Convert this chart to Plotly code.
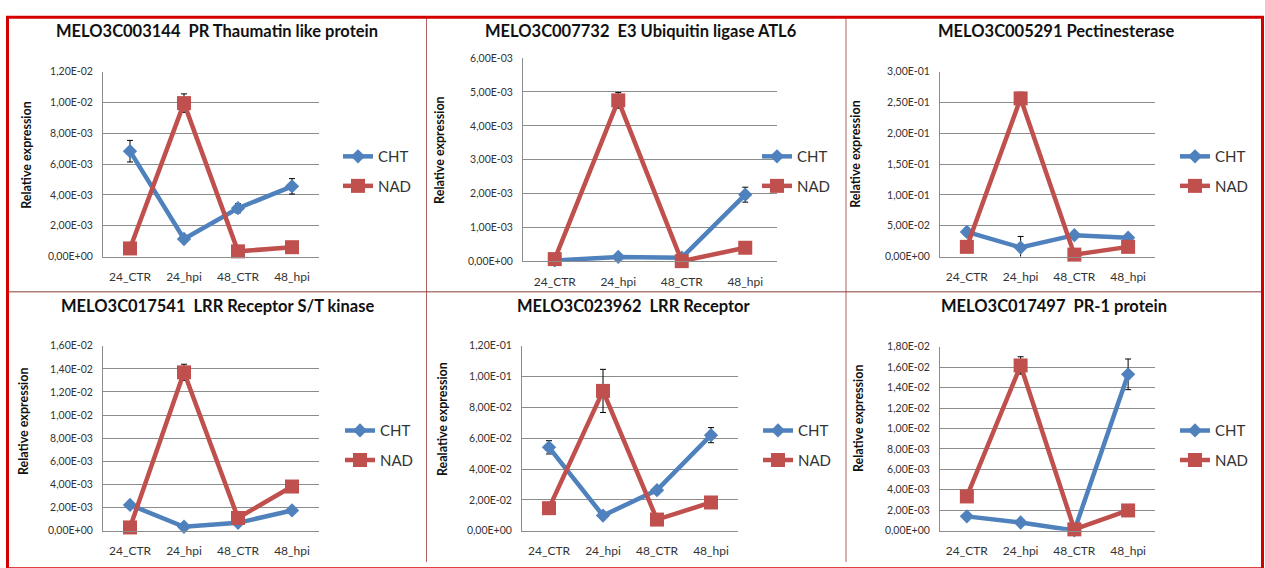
import plotly.graph_objects as go

# ---------------- data ----------------
categories = ["24_CTR", "24_hpi", "48_CTR", "48_hpi"]

titles = [
    "MELO3C003144  PR Thaumatin like protein",
    "MELO3C007732  E3 Ubiquitin ligase ATL6",
    "MELO3C005291 Pectinesterase",
    "MELO3C017541  LRR Receptor S/T kinase",
    "MELO3C023962  LRR Receptor",
    "MELO3C017497  PR-1 protein",
]
y_titles = ["Relative expression", "Relative expression", "Relative expression",
            "Relative expression", "Realative expression", "Relative expression"]

# y-axis maximum and tick step for each panel
y_max = [1.2e-2, 6e-3, 3e-1, 1.6e-2, 1.2e-1, 1.8e-2]
y_step = [2e-3, 1e-3, 5e-2, 2e-3, 2e-2, 2e-3]

# relative expression (mean) and error for CHT and NAD
cht_thaumatin = [6.84e-3, 1.14e-3, 3.14e-3, 4.56e-3]
cht_thaumatin_err = [0.7e-3, None, 0.3e-3, 0.5e-3]
nad_thaumatin = [0.53e-3, 9.96e-3, 0.34e-3, 0.61e-3]
nad_thaumatin_err = [None, 0.6e-3, None, None]

cht_ubiquitin = [0.03e-3, 0.135e-3, 0.11e-3, 1.97e-3]
cht_ubiquitin_err = [None, None, None, 0.22e-3]
nad_ubiquitin = [0.07e-3, 4.75e-3, 0.01e-3, 0.405e-3]
nad_ubiquitin_err = [None, 0.23e-3, None, None]

cht_pectinesterase = [4.0e-2, 1.47e-2, 3.48e-2, 3.06e-2]
cht_pectinesterase_err = [0.6e-2, 1.8e-2, None, None]
nad_pectinesterase = [1.58e-2, 2.566e-1, 0.32e-2, 1.58e-2]
nad_pectinesterase_err = [None, 1.0e-2, None, None]

cht_lrr_kinase = [2.23e-3, 0.34e-3, 0.68e-3, 1.75e-3]
cht_lrr_kinase_err = [None, None, None, None]
nad_lrr_kinase = [0.28e-3, 13.7e-3, 1.1e-3, 3.82e-3]
nad_lrr_kinase_err = [None, 0.7e-3, None, None]

cht_lrr_receptor = [5.41e-2, 0.98e-2, 2.63e-2, 6.2e-2]
cht_lrr_receptor_err = [0.43e-2, None, None, 0.49e-2]
nad_lrr_receptor = [1.46e-2, 9.07e-2, 0.72e-2, 1.83e-2]
nad_lrr_receptor_err = [None, 1.4e-2, None, None]

cht_pr1 = [1.40e-3, 0.8e-3, 0.02e-3, 15.3e-3]
cht_pr1_err = [None, None, None, 1.5e-3]
nad_pr1 = [3.35e-3, 16.17e-3, 0.13e-3, 1.98e-3]
nad_pr1_err = [None, 0.85e-3, None, None]

cht_series = [cht_thaumatin, cht_ubiquitin, cht_pectinesterase,
              cht_lrr_kinase, cht_lrr_receptor, cht_pr1]
cht_errors = [cht_thaumatin_err, cht_ubiquitin_err, cht_pectinesterase_err,
              cht_lrr_kinase_err, cht_lrr_receptor_err, cht_pr1_err]
nad_series = [nad_thaumatin, nad_ubiquitin, nad_pectinesterase,
              nad_lrr_kinase, nad_lrr_receptor, nad_pr1]
nad_errors = [nad_thaumatin_err, nad_ubiquitin_err, nad_pectinesterase_err,
              nad_lrr_kinase_err, nad_lrr_receptor_err, nad_pr1_err]

# ---------------- layout geometry (pixels) ----------------
W, H = 1265, 568
FONT = "Lato, 'Open Sans', sans-serif"
CHT_COLOR = "#4F81BD"
NAD_COLOR = "#C0504D"
GRID = "#8c8c8c"

# plot areas: left, right, top, bottom
areas = [
    (103, 319, 67, 256), (523, 777, 53, 261), (940, 1155, 67, 256),
    (103, 319, 347, 536), (522, 738, 347, 536), (940, 1155, 348, 536),
]
title_pos = [(217, 26), (641, 26), (1056, 26), (217, 306), (634, 306), (1054, 306)]
ytitle_pos = [(27, 152), (440, 147), (856, 151), (23, 424), (442, 422), (858, 421)]
legend_pos = [(338, 137), (757, 137), (1175, 137), (340, 417), (758, 417), (1175, 417)]


def px(x):
    return x / W


def py(y):
    return 1 - y / H


def sci_label(v):
    return f"{v:.2E}".replace(".", ",")


fig = go.Figure()
layout = dict(
    width=W, height=H, margin=dict(l=0, r=0, t=0, b=0),
    paper_bgcolor="white", plot_bgcolor="white",
    font=dict(family=FONT, color="#222"),
    annotations=[], shapes=[], showlegend=True,
)

for i in range(6):
    n = "" if i == 0 else str(i + 1)
    xa, ya = "x" + n, "y" + n
    leg = "legend" + n
    l, r, t, b = areas[i]

    nticks = int(round(y_max[i] / y_step[i]))
    tvals = [k * y_step[i] for k in range(nticks + 1)]

    for name, vals, errs, color, symbol, size in [
        ("CHT", cht_series[i], cht_errors[i], CHT_COLOR, "diamond", 11),
        ("NAD", nad_series[i], nad_errors[i], NAD_COLOR, "square", 14),
    ]:
        fig.add_trace(go.Scatter(
            x=categories, y=vals, name=name, mode="lines+markers",
            xaxis=xa, yaxis=ya, legend=leg, legendgroup=name + n,
            line=dict(color=color, width=4.5),
            marker=dict(symbol=symbol, size=size, color=color),
            error_y=dict(type="data", array=[e if e is not None else float("nan") for e in errs],
                         visible=True, color="black", thickness=1, width=3),
            cliponaxis=False,
        ))

    layout["xaxis" + n] = dict(
        domain=[px(l), px(r)], anchor=ya, type="category",
        range=[-0.5, 3.5], showgrid=False, zeroline=False,
        showline=True, linecolor=GRID, linewidth=1, ticks="",
        ticklabelstandoff=9,
        tickfont=dict(size=12, color="#333"), fixedrange=True,
    )
    layout["yaxis" + n] = dict(
        domain=[py(b), py(t)], anchor=xa, range=[0, y_max[i] * 1.0005],
        tickvals=tvals, ticktext=[sci_label(v) for v in tvals],
        showgrid=True, gridcolor=GRID, gridwidth=1, zeroline=False,
        showline=True, linecolor=GRID, linewidth=1, ticks="",
        ticklabelstandoff=7, tickfont=dict(size=10.5, color="#333"), fixedrange=True,
    )
    lx, ly = legend_pos[i]
    layout[leg] = dict(
        x=px(lx), y=py(ly), xanchor="left", yanchor="top",
        bgcolor="rgba(0,0,0,0)", font=dict(size=15, color="#333"),
        tracegroupgap=7, itemwidth=30,
    )
    tx, ty = title_pos[i]
    layout["annotations"].append(dict(
        text="<b>" + titles[i] + "</b>", x=px(tx), y=py(ty), xref="paper", yref="paper",
        showarrow=False, font=dict(size=16.5, color="#111"), xanchor="center", yanchor="middle",
    ))
    ax, ay = ytitle_pos[i]
    layout["annotations"].append(dict(
        text="<b>" + y_titles[i] + "</b>", x=px(ax), y=py(ay), xref="paper", yref="paper",
        showarrow=False, textangle=-90, font=dict(size=12.5, color="#111"),
        xanchor="center", yanchor="middle",
    ))

# panel dividers and frame
for x0 in (426.5, 846):
    layout["shapes"].append(dict(type="line", xref="paper", yref="paper",
                                 x0=px(x0), x1=px(x0), y0=0, y1=py(11),
                                 line=dict(color="#b06060", width=1)))
layout["shapes"].append(dict(type="line", xref="paper", yref="paper",
                             x0=px(7), x1=px(1263), y0=py(292), y1=py(292),
                             line=dict(color="#8b3a3a", width=1)))
layout["shapes"].append(dict(type="rect", xref="paper", yref="paper",
                             x0=px(7.5), x1=px(1262.5), y0=py(575), y1=py(11.5),
                             line=dict(color="#d40000", width=3)))

fig.update_layout(**layout)
fig.write_html("out.html")
